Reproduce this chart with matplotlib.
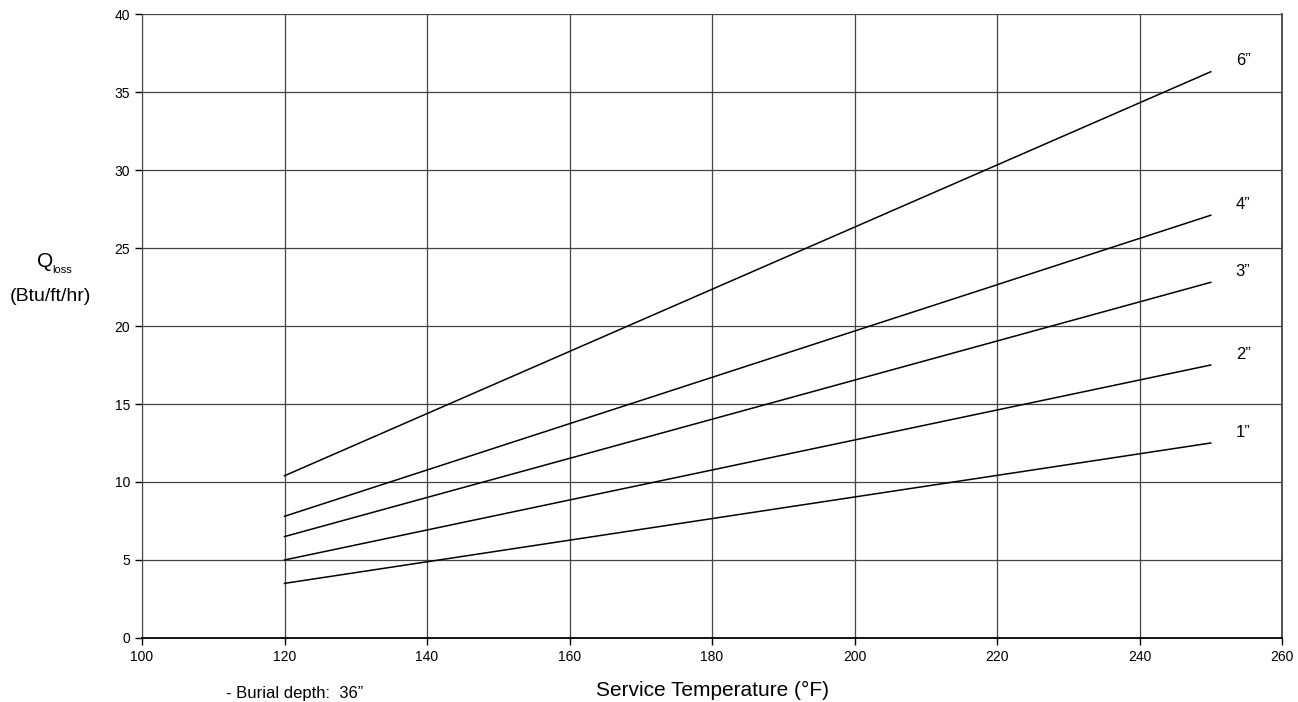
import numpy as np
import matplotlib.pyplot as plt

plt.rcParams['font.family'] = ['Liberation Sans', 'DejaVu Sans']

temps = [120, 250]
q_1in = [3.5, 12.5]
q_2in = [5.0, 17.5]
q_3in = [6.5, 22.8]
q_4in = [7.8, 27.1]
q_6in = [10.4, 36.3]
sizes = ['1\u201d', '2\u201d', '3\u201d', '4\u201d', '6\u201d']

fig = plt.figure(figsize=(12.98, 7.02), dpi=100)
ax = fig.add_axes([0.1094, 0.0912, 0.8783, 0.8888])

for q, lab in zip([q_1in, q_2in, q_3in, q_4in, q_6in], sizes):
    ax.plot(temps, q, color='black', lw=1.1)
    ax.text(temps[-1] + 3.5, q[-1] + 0.7, lab, fontsize=12, va='center', ha='left')

ax.set_xlim(100, 260)
ax.set_ylim(0, 40)
ax.set_xticks(np.arange(100, 261, 20))
ax.set_yticks(np.arange(0, 41, 5))
ax.tick_params(direction='out', length=5, labelsize=10, width=1)
ax.grid(True, color='#444444', lw=0.9)
ax.set_axisbelow(True)
ax.spines['top'].set_visible(False)
ax.spines['right'].set_color('#444444')
ax.spines['right'].set_linewidth(1.3)
ax.spines['left'].set_color('#444444')
ax.spines['bottom'].set_color('black')
ax.spines['bottom'].set_linewidth(1.3)

# y label: Q with small subscript
fig.text(0.0345, 0.627, 'Q', fontsize=15, ha='center', va='center')
fig.text(0.0405, 0.616, 'loss', fontsize=8, ha='left', va='center')
fig.text(0.039, 0.578, '(Btu/ft/hr)', fontsize=14, ha='center', va='center')
fig.text(0.549, 0.017, 'Service Temperature (\u00b0F)', fontsize=15, ha='center', va='center')
fig.text(0.174, 0.002, '- Burial depth:  36\u201d', fontsize=12, ha='left', va='bottom')

plt.savefig('out.png', dpi=100)
